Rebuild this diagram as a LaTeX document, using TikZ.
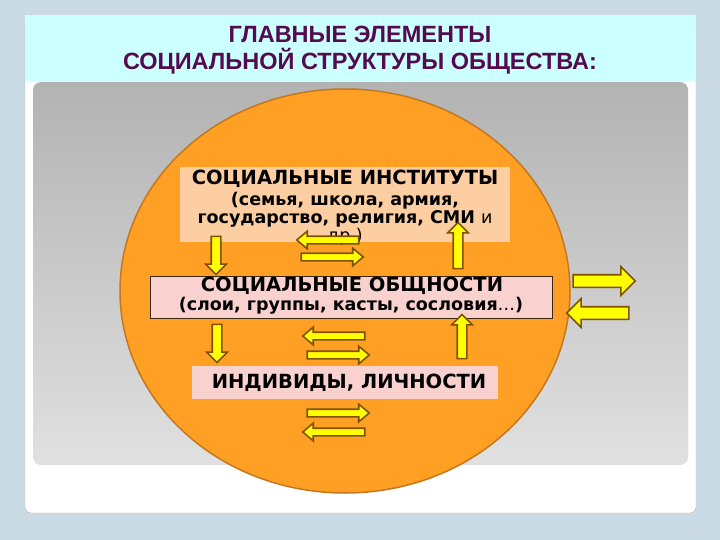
\documentclass[tikz,border=0pt]{standalone}
\usepackage{fontspec}
\setmainfont{DejaVu Sans}
\newfontfamily\titlefont{Liberation Sans}
\usepackage{xcolor}
\definecolor{pagebg}{RGB}{203,219,229}
\definecolor{titlebg}{RGB}{204,255,255}
\definecolor{titleink}{RGB}{84,10,80}
\definecolor{orangefill}{RGB}{255,160,36}
\definecolor{orangeedge}{RGB}{196,120,30}
\definecolor{peach}{RGB}{252,206,162}
\definecolor{pinkbox}{RGB}{249,210,208}
\definecolor{arrowfill}{RGB}{255,255,0}
\definecolor{arrowedge}{RGB}{128,82,0}
\usepackage{tikz}
\usetikzlibrary{shapes.arrows}
\tikzset{
    box/.style={rectangle, inner sep=0pt},
    inst/.style={box, fill=peach, minimum width=330, minimum height=75},
    comm/.style={box, fill=pinkbox, draw=black!70!brown, line width=0.8pt, minimum width=402, minimum height=42},
    indiv/.style={box, fill=pinkbox, minimum width=306, minimum height=33},
    headline/.style={font=\bfseries\fontsize{19.5}{21}\selectfont},
    subline/.style={font=\bfseries\fontsize{17.5}{18}\selectfont, align=center},
    blockarrow/.style={single arrow, draw=arrowedge, fill=arrowfill, line width=1.6pt, anchor=center},
    thin-arrow/.style={blockarrow, inner sep=3pt, single arrow head extend=5pt, single arrow tip angle=80, minimum height=62},
    vert-arrow/.style={blockarrow, inner sep=4pt, single arrow head extend=5.5pt},
    side-arrow/.style={blockarrow, inner sep=5.5pt, single arrow head extend=8pt, minimum height=62}
}

\begin{document}
\begin{tikzpicture}[x=1pt, y=-1pt]
    \useasboundingbox (0,0) rectangle (720,540);
    \fill[pagebg] (0,0) rectangle (720,540);
    \filldraw[fill=white, draw=gray!60, rounded corners=6] (25,15) rectangle (696,513);
    \fill[titlebg] (25,15) rectangle (696,81);
    \shade[top color=black!30, bottom color=black!12, rounded corners=8] (33,82) rectangle (688,465);

    \node[font=\titlefont\bfseries\fontsize{23.5}{27}\selectfont, text=titleink, align=center] (title) at (360,50)
        {ГЛАВНЫЕ ЭЛЕМЕНТЫ\\СОЦИАЛЬНОЙ СТРУКТУРЫ ОБЩЕСТВА:};

    \filldraw[fill=orangefill, draw=orangeedge, line width=1.5pt] (345,291) ellipse [x radius=225, y radius=202];

    \node[inst] (inst-box) at (345,204.5) {};
    \node[headline] (inst-title) at (345,179) {СОЦИАЛЬНЫЕ ИНСТИТУТЫ};
    \node[subline, anchor=north] (inst-text) at (345,189)
        {(семья, школа, армия,\\государство, религия, СМИ {\mdseries и}\\{\mdseries др.)}};

    \node[comm] (comm-box) at (351.5,297) {};
    \node[headline] (comm-title) at (352,286) {СОЦИАЛЬНЫЕ ОБЩНОСТИ};
    \node[subline] (comm-text) at (351,306) {(слои, группы, касты, сословия{\mdseries…})};

    \node[indiv] (indiv-box) at (345,382.5) {};
    \node[headline] (indiv-title) at (349,383) {ИНДИВИДЫ, ЛИЧНОСТИ};

    \node[vert-arrow, rotate=-90, minimum height=38] (inst-down) at (216,253) {};
    \node[vert-arrow, rotate=90, minimum height=46] (inst-up) at (458,248) {};
    \node[thin-arrow, rotate=180] (inst-left) at (330,240) {};
    \node[thin-arrow] (inst-right) at (330,257) {};

    \node[vert-arrow, rotate=-90, minimum height=38] (comm-down) at (217,341) {};
    \node[vert-arrow, rotate=90, minimum height=44] (comm-up) at (462,339) {};
    \node[thin-arrow, rotate=180] (comm-left) at (336,336) {};
    \node[thin-arrow] (comm-right) at (336,355) {};

    \node[thin-arrow] (indiv-right) at (336,413) {};
    \node[thin-arrow, rotate=180] (indiv-left) at (336,432) {};

    \node[side-arrow] (out-right) at (601,281) {};
    \node[side-arrow, rotate=180] (out-left) at (601,313) {};
\end{tikzpicture}
\end{document}
